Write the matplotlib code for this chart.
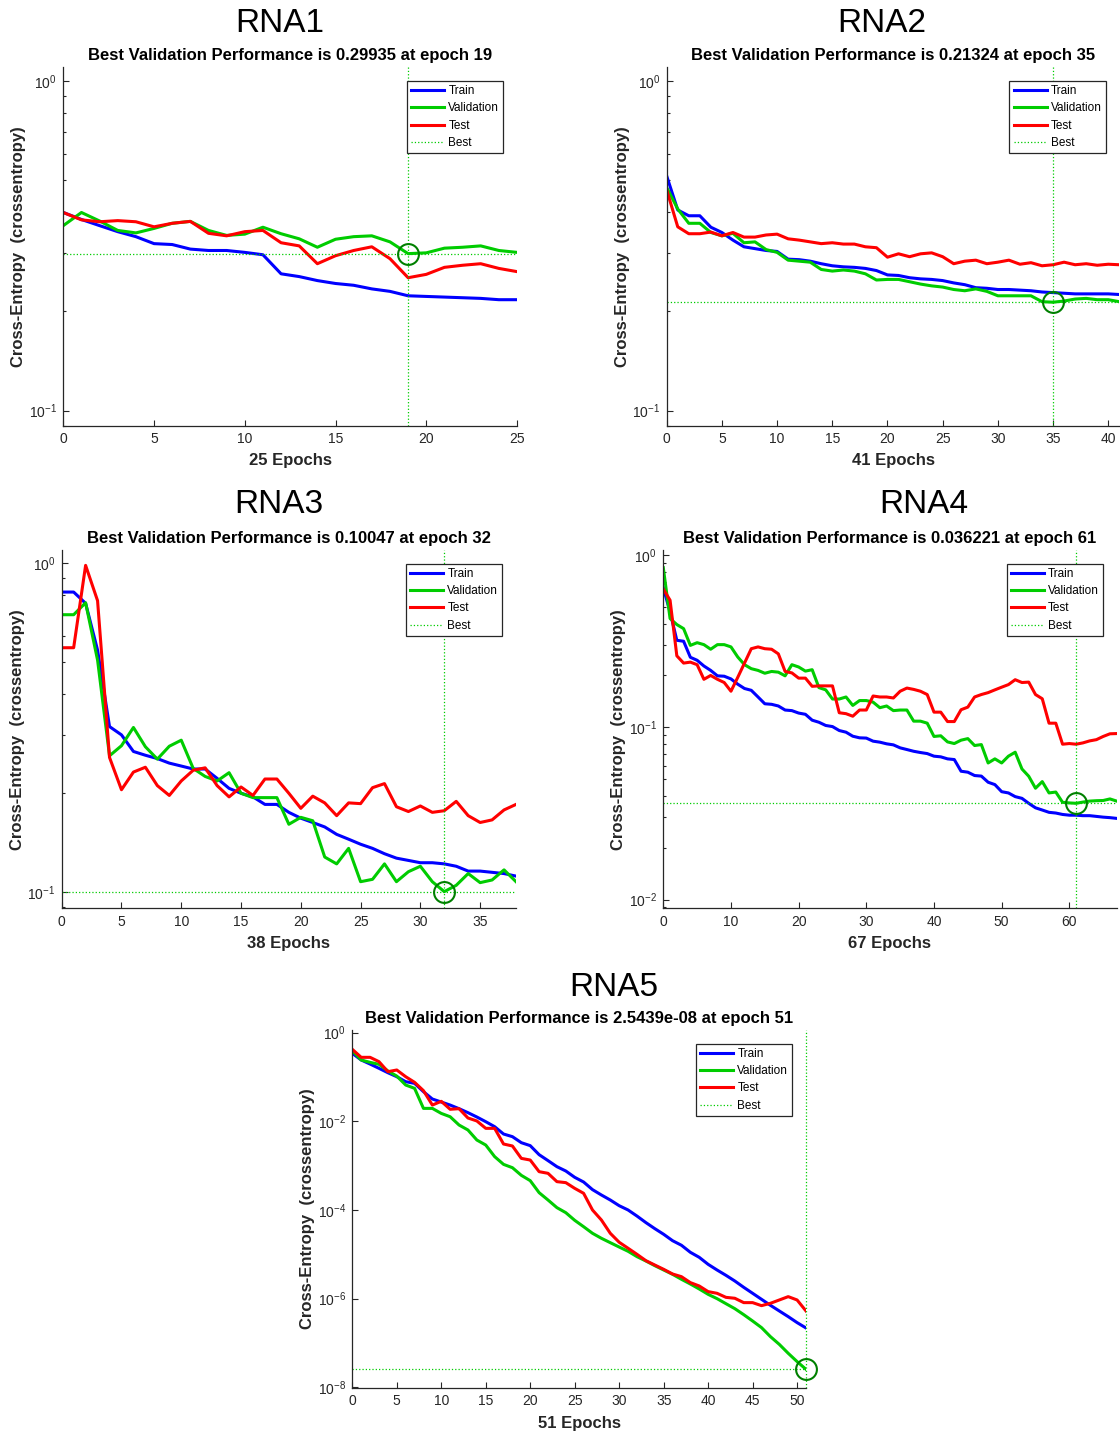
import matplotlib
matplotlib.use('Agg')
import matplotlib.pyplot as plt
from matplotlib.ticker import LogLocator, NullLocator, FixedLocator
import numpy as np

plt.rcParams['font.family'] = ['Liberation Sans', 'DejaVu Sans']
plt.rcParams['mathtext.default'] = 'regular'
plt.rcParams['axes.unicode_minus'] = False

# RNA1
rna1_train = [0.399, 0.380, 0.364, 0.349, 0.337, 0.321, 0.319, 0.309, 0.306, 0.306,
              0.302, 0.297, 0.260, 0.255, 0.248, 0.243, 0.240, 0.234, 0.230, 0.223,
              0.222, 0.221, 0.220, 0.219, 0.217, 0.217]
rna1_val = [0.364, 0.399, 0.376, 0.352, 0.346, 0.357, 0.370, 0.375, 0.352, 0.340,
            0.343, 0.360, 0.344, 0.332, 0.313, 0.331, 0.337, 0.339, 0.325, 0.29935,
            0.301, 0.311, 0.313, 0.316, 0.306, 0.302]
rna1_test = [0.399, 0.379, 0.374, 0.377, 0.374, 0.361, 0.370, 0.375, 0.345, 0.339,
             0.349, 0.352, 0.323, 0.316, 0.279, 0.295, 0.306, 0.314, 0.289, 0.253,
             0.259, 0.272, 0.276, 0.279, 0.270, 0.264]

# RNA2
rna2_train = [0.515, 0.406, 0.390, 0.390, 0.360, 0.347, 0.329, 0.314, 0.310, 0.306,
              0.304, 0.288, 0.287, 0.284, 0.279, 0.275, 0.273, 0.272, 0.270, 0.266,
              0.258, 0.257, 0.253, 0.251, 0.250, 0.248, 0.244, 0.241, 0.236, 0.235,
              0.233, 0.233, 0.232, 0.231, 0.229, 0.228, 0.227, 0.226, 0.226, 0.226,
              0.226, 0.225]
rna2_val = [0.475, 0.409, 0.370, 0.370, 0.347, 0.339, 0.345, 0.323, 0.325, 0.308,
            0.302, 0.286, 0.284, 0.282, 0.268, 0.265, 0.267, 0.265, 0.260, 0.249,
            0.250, 0.250, 0.246, 0.242, 0.239, 0.237, 0.233, 0.231, 0.234, 0.230,
            0.223, 0.223, 0.223, 0.223, 0.214, 0.21324, 0.215, 0.218, 0.219, 0.217,
            0.217, 0.214]
rna2_test = [0.467, 0.361, 0.344, 0.344, 0.348, 0.339, 0.347, 0.336, 0.336, 0.341,
             0.343, 0.332, 0.329, 0.325, 0.321, 0.323, 0.320, 0.320, 0.314, 0.312,
             0.292, 0.299, 0.293, 0.299, 0.301, 0.293, 0.279, 0.284, 0.286, 0.279,
             0.282, 0.286, 0.278, 0.281, 0.275, 0.277, 0.282, 0.277, 0.279, 0.276,
             0.278, 0.277]

# RNA3
rna3_train = [0.818, 0.818, 0.756, 0.545, 0.319, 0.301, 0.268, 0.261, 0.255, 0.247,
              0.242, 0.237, 0.237, 0.222, 0.207, 0.200, 0.195, 0.185, 0.185, 0.175,
              0.168, 0.163, 0.158, 0.150, 0.145, 0.140, 0.136, 0.131, 0.127, 0.125,
              0.123, 0.123, 0.122, 0.120, 0.116, 0.116, 0.115, 0.114, 0.112]
rna3_val = [0.698, 0.698, 0.759, 0.508, 0.260, 0.279, 0.317, 0.277, 0.254, 0.278,
            0.290, 0.238, 0.225, 0.218, 0.231, 0.200, 0.194, 0.194, 0.194, 0.161,
            0.169, 0.165, 0.128, 0.122, 0.136, 0.1077, 0.1095, 0.122, 0.1077, 0.1155,
            0.120, 0.1077, 0.10047, 0.105, 0.114, 0.107, 0.109, 0.117, 0.1077]
rna3_test = [0.554, 0.554, 0.986, 0.770, 0.257, 0.205, 0.232, 0.240, 0.211, 0.197,
             0.218, 0.235, 0.239, 0.211, 0.195, 0.209, 0.197, 0.221, 0.221, 0.200,
             0.180, 0.196, 0.187, 0.171, 0.187, 0.186, 0.208, 0.214, 0.182, 0.176,
             0.183, 0.175, 0.177, 0.189, 0.171, 0.163, 0.166, 0.178, 0.185]

# RNA4
rna4_train = [0.645, 0.468, 0.320, 0.316, 0.255, 0.245, 0.227, 0.214, 0.199, 0.198,
              0.191, 0.178, 0.168, 0.164, 0.150, 0.137, 0.136, 0.133, 0.126, 0.125,
              0.121, 0.119, 0.110, 0.107, 0.1025, 0.101, 0.0958, 0.0937, 0.0888, 0.0869,
              0.0866, 0.0831, 0.0820, 0.0802, 0.0791, 0.0760, 0.0743, 0.0726, 0.0714, 0.0704,
              0.0680, 0.0674, 0.0656, 0.0650, 0.0556, 0.0549, 0.0525, 0.0521, 0.0480, 0.0465,
              0.0423, 0.0416, 0.0396, 0.0387, 0.0362, 0.0341, 0.0331, 0.0321, 0.0318, 0.0312,
              0.0309, 0.0309, 0.0307, 0.0307, 0.0304, 0.0301, 0.0299, 0.0296]
rna4_val = [0.844, 0.428, 0.395, 0.374, 0.299, 0.310, 0.302, 0.284, 0.302, 0.302,
            0.293, 0.256, 0.231, 0.219, 0.214, 0.206, 0.211, 0.209, 0.199, 0.231,
            0.224, 0.212, 0.216, 0.170, 0.165, 0.146, 0.146, 0.150, 0.134, 0.143,
            0.143, 0.140, 0.130, 0.133, 0.125, 0.126, 0.126, 0.1086, 0.1086, 0.1057,
            0.0885, 0.0893, 0.0823, 0.0805, 0.0842, 0.0860, 0.0784, 0.0794, 0.0621, 0.0656,
            0.0621, 0.0680, 0.0717, 0.0573, 0.0520, 0.0443, 0.0484, 0.0416, 0.0421, 0.0367,
            0.0364, 0.036221, 0.0368, 0.0373, 0.0375, 0.0376, 0.0384, 0.0373]
rna4_test = [0.634, 0.547, 0.260, 0.236, 0.239, 0.231, 0.190, 0.200, 0.190, 0.182,
             0.162, 0.195, 0.236, 0.286, 0.293, 0.286, 0.284, 0.267, 0.211, 0.207,
             0.193, 0.193, 0.173, 0.174, 0.174, 0.174, 0.1215, 0.120, 0.116, 0.126,
             0.126, 0.152, 0.150, 0.150, 0.148, 0.162, 0.169, 0.166, 0.162, 0.155,
             0.1225, 0.1225, 0.108, 0.108, 0.1265, 0.131, 0.150, 0.155, 0.159, 0.165,
             0.171, 0.177, 0.189, 0.182, 0.183, 0.155, 0.1465, 0.1057, 0.1057, 0.0798,
             0.0805, 0.0798, 0.0812, 0.0834, 0.0848, 0.0885, 0.0917, 0.0920]

# RNA5
rna5_train = [0.342, 0.242, 0.196, 0.157, 0.125, 0.1017, 0.0785, 0.0720, 0.0467, 0.0319,
              0.0273, 0.0233, 0.0193, 0.0157, 0.01253, 0.00982, 0.00758, 0.00518, 0.00451, 0.00330,
              0.00283, 0.00177, 0.00130, 9.49e-4, 7.58e-4, 5.46e-4, 4.28e-4, 2.88e-4, 2.18e-4, 1.68e-4,
              1.25e-4, 1.0e-4, 7.3e-5, 5.2e-5, 3.8e-5, 2.83e-5, 2.03e-5, 1.6e-5, 1.11e-5, 8.55e-6,
              5.94e-6, 4.43e-6, 3.36e-6, 2.5e-6, 1.8e-6, 1.32e-6, 9.66e-7, 7.08e-7, 5.27e-7, 3.93e-7,
              2.88e-7, 2.18e-7]
rna5_val = [0.393, 0.242, 0.214, 0.193, 0.137, 0.105, 0.066, 0.0555, 0.0196, 0.0196,
            0.0151, 0.0127, 0.00826, 0.00638, 0.00379, 0.00292, 0.0016, 0.00107, 0.0009, 6.05e-4,
            4.59e-4, 2.46e-4, 1.68e-4, 1.13e-4, 8.7e-5, 5.85e-5, 4.2e-5, 2.98e-5, 2.3e-5, 1.83e-5,
            1.46e-5, 1.17e-5, 8.86e-6, 7.07e-6, 5.55e-6, 4.43e-6, 3.54e-6, 2.73e-6, 2.14e-6, 1.65e-6,
            1.25e-6, 1.0e-6, 7.7e-7, 5.94e-7, 4.35e-7, 3.13e-7, 2.22e-7, 1.39e-7, 9.3e-8, 5.85e-8,
            3.8e-8, 2.5439e-8]
rna5_test = [0.421, 0.278, 0.278, 0.222, 0.132, 0.144, 0.1017, 0.0759, 0.0492, 0.0233,
             0.0283, 0.0187, 0.0193, 0.0119, 0.0102, 0.00695, 0.00695, 0.00308, 0.00278, 0.00146,
             0.00134, 7.32e-4, 6.72e-4, 4.36e-4, 4.14e-4, 3.08e-4, 2.38e-4, 1.0e-4, 5.95e-5, 2.98e-5,
             1.87e-5, 1.37e-5, 1.0e-5, 7.2e-6, 5.74e-6, 4.59e-6, 3.6e-6, 3.13e-6, 2.3e-6, 1.93e-6,
             1.44e-6, 1.32e-6, 1.07e-6, 1.02e-6, 8.13e-7, 8.13e-7, 6.95e-7, 7.85e-7, 9.33e-7, 1.11e-6,
             9.33e-7, 5.27e-7]

names = ['RNA1', 'RNA2', 'RNA3', 'RNA4', 'RNA5']
best_epoch = [19, 35, 32, 61, 51]
best_perf = ['0.29935', '0.21324', '0.10047', '0.036221', '2.5439e-08']
trains = [rna1_train, rna2_train, rna3_train, rna4_train, rna5_train]
vals = [rna1_val, rna2_val, rna3_val, rna4_val, rna5_val]
tests = [rna1_test, rna2_test, rna3_test, rna4_test, rna5_test]

W, H = 1120, 1434
fig = plt.figure(figsize=(W / 100, H / 100), dpi=100)

# axes boxes in pixels: left, right, top, bottom
boxes = [(63.3, 517, 67.3, 425.7),
         (666.7, 1119.3, 67.3, 425.7),
         (61.7, 516, 550, 908.3),
         (663.3, 1116.7, 550, 908.3),
         (352.3, 806, 1030, 1388)]
ylims = [(0.090, 1.10), (0.090, 1.10), (0.0894, 1.098), (0.0089, 1.07), (0.964e-8, 1.15)]
xticks = [np.arange(0, 26, 5), np.arange(0, 41, 5), np.arange(0, 36, 5),
          np.arange(0, 61, 10), np.arange(0, 51, 5)]
# big titles (x, y) in pixels
big_pos = [(280, 23), (882, 23), (279, 505), (924, 505), (614, 987)]

dark = '#262626'
blue, green, red = (0, 0, 1), (0, 0.8, 0), (1, 0, 0)

for i in range(5):
    l, r, t, b = boxes[i]
    aw, ah = r - l, b - t
    ax = fig.add_axes([l / W, 1 - b / H, aw / W, ah / H])
    n = len(trains[i]) - 1
    ep = np.arange(n + 1)
    ax.set_yscale('log')
    ax.plot(ep, trains[i], color=blue, lw=2.2, label='Train')
    ax.plot(ep, vals[i], color=green, lw=2.2, label='Validation')
    ax.plot(ep, tests[i], color=red, lw=2.2, label='Test')
    bv = float(best_perf[i])
    be = best_epoch[i]
    ax.plot([be, be], ylims[i], ':', color=green, lw=0.9, label='Best', clip_on=False)
    ax.plot([0, n], [bv, bv], ':', color=green, lw=0.9)
    ax.plot([be], [bv], 'o', ms=15, mfc='none', mec=(0, 0.5, 0), mew=1.5, clip_on=False)
    ax.set_xlim(0, n)
    ax.set_ylim(*ylims[i])
    ax.set_xticks(xticks[i])
    if i == 4:
        ax.yaxis.set_major_locator(FixedLocator([1e0, 1e-2, 1e-4, 1e-6, 1e-8]))
        ax.yaxis.set_minor_locator(NullLocator())
    else:
        ax.yaxis.set_major_locator(LogLocator(base=10, numticks=10))
        ax.yaxis.set_minor_locator(LogLocator(base=10, subs=np.arange(2, 10), numticks=10))
    ax.spines['top'].set_visible(False)
    ax.spines['right'].set_visible(False)
    for s in ['left', 'bottom']:
        ax.spines[s].set_color(dark)
        ax.spines[s].set_linewidth(0.9)
    ax.tick_params(which='both', direction='in', colors=dark, labelcolor=dark, width=0.8)
    ax.tick_params(which='major', length=4.5, labelsize=10, pad=4.5)
    ax.tick_params(which='minor', length=2.5)
    ax.set_xlabel('%d Epochs' % n, fontsize=12, fontweight='bold', color=dark)
    ax.xaxis.set_label_coords(0.5, -27.8 / ah)
    ax.set_ylabel('Cross-Entropy  (crossentropy)', fontsize=12, fontweight='bold', color=dark)
    ax.yaxis.set_label_coords(-37.0 / aw, 0.5)
    ax.set_title('Best Validation Performance is %s at epoch %d' % (best_perf[i], be),
                 fontsize=12, fontweight='bold', color='black', pad=5)
    leg = ax.legend(loc='upper right', bbox_to_anchor=(0.97, 0.962), fontsize=8.5,
                    frameon=True, fancybox=False, edgecolor=dark, framealpha=1,
                    handlelength=2.8, handletextpad=0.35, labelspacing=0.45,
                    borderpad=0.35, borderaxespad=0)
    leg.get_frame().set_linewidth(0.9)
    fig.text(big_pos[i][0] / W, 1 - big_pos[i][1] / H, names[i], fontsize=24,
             ha='center', va='center', color='black')

fig.savefig('out.png', dpi=100)
